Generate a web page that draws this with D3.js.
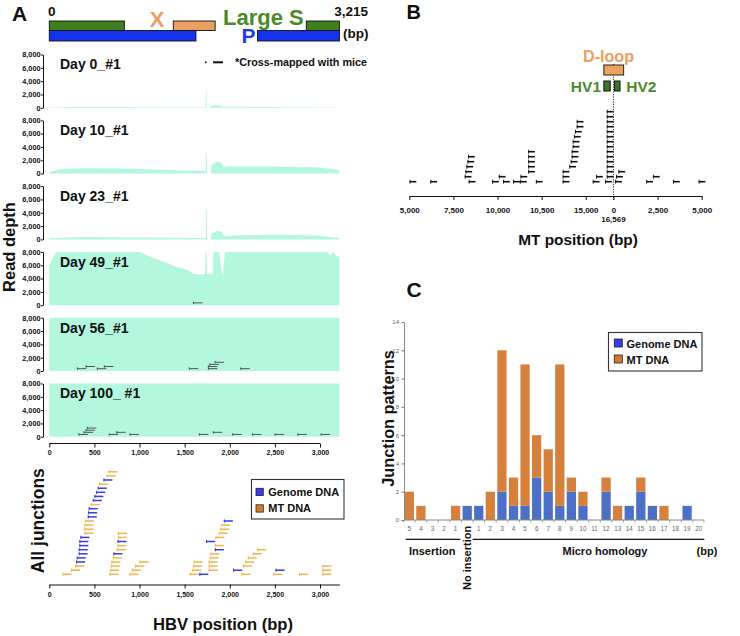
<!DOCTYPE html>
<html><head><meta charset="utf-8">
<script src="https://cdn.jsdelivr.net/npm/d3@7/dist/d3.min.js"></script>
<style>
html,body{margin:0;padding:0;background:#fff;}
svg{display:block;}
</style></head>
<body>
<svg id="chart" width="740" height="636" xmlns="http://www.w3.org/2000/svg"></svg>
<script>
// ================= DATA =================
// ---- Panel A : HBV genome ----
const hbvLength = 3215;
const hbvTicks = [0, 500, 1000, 1500, 2000, 2500, 3000];
const genes = [
  {gene: "S", start: 0,    end: 832,  row: 0},
  {gene: "X", start: 1374, end: 1838, row: 0},
  {gene: "S", start: 2848, end: 3215, row: 0},
  {gene: "P", start: 0,    end: 1625, row: 1},
  {gene: "P", start: 2307, end: 3215, row: 1}
];
const trackNames = ["Day 0_#1", "Day 10_#1", "Day 23_#1", "Day 49_#1", "Day 56_#1", "Day 100_ #1"];
const depthTicks = [0, 2000, 4000, 6000, 8000];
const depthMax = 8000;
// read depth profiles [HBV position, depth]
const depthDay0 = [[0,60],[200,110],[800,110],[1400,90],[1720,70],[1733,70],[1736,2600],[1742,2600],[1745,0],[1770,0],[1790,250],[1840,380],[1900,350],[1930,150],[2500,110],[3215,60]];
const depthDay10 = [[0,250],[118,660],[377,810],[746,760],[1116,600],[1486,450],[1720,400],[1733,400],[1736,3000],[1744,3000],[1748,0],[1790,0],[1800,1300],[1855,1770],[1911,1670],[1929,900],[1966,1060],[2409,1060],[2964,960],[3149,660],[3215,500]];
const depthDay23 = [[0,180],[377,350],[1000,300],[1700,200],[1733,200],[1736,4400],[1744,4400],[1748,0],[1790,0],[1800,900],[1855,1260],[1911,1170],[1935,500],[2040,600],[2594,710],[2964,600],[3215,200]];
const depthDay49 = [[0,5980],[44,7240],[81,8200],[1005,8200],[1020,7900],[1079,7500],[1190,6890],[1301,6380],[1412,5720],[1523,5370],[1596,4710],[1670,4560],[1728,4710],[1733,8200],[1744,8200],[1750,4710],[1811,4710],[1818,8200],[1885,8200],[1899,5980],[1922,4460],[1948,8200],[3075,8200],[3112,7500],[3149,8000],[3193,7240],[3215,7500]];
const depthDay56 = [[0,9000],[3215,9000]];
const depthDay100 = [[0,9000],[3215,9000]];
// junction reads drawn inside tracks [start, stack row]
const marksDay0 = [];
const marksDay10 = [];
const marksDay23 = [];
const marksDay49 = [[1597,0]];
const marksDay56 = [[311,0],[407,1],[532,0],[610,1],[1552,0],[1763,0],[1763,1],[1780,2],[1837,3],[2122,0]];
const marksDay100 = [[329,0],[385,1],[407,2],[422,3],[665,0],[747,1],[895,0],[1663,0],[1818,1],[2033,0],[2251,0],[2502,0],[2754,0],[3012,0]];
const junctionLength = 100;
// all junctions [start, row, type]
const junctionsAll = [
  [148,0,"MT"],[241,1,"MT"],[286,2,"MT"],[297,3,"G"],[304,4,"G"],[326,5,"G"],[326,6,"G"],[333,7,"G"],[333,8,"G"],[345,9,"G"],
  [389,10,"MT"],[389,11,"MT"],[389,12,"MT"],[397,13,"MT"],[426,14,"G"],[430,15,"G"],[437,16,"G"],[460,17,"MT"],[482,18,"G"],
  [500,19,"G"],[519,20,"G"],[537,21,"G"],[552,22,"MT"],[600,23,"G"],[637,24,"MT"],[656,25,"MT"],
  [667,0,"MT"],[675,1,"MT"],[682,2,"MT"],[689,3,"MT"],[704,4,"MT"],[711,5,"G"],[748,6,"MT"],[756,7,"MT"],[756,8,"G"],[760,9,"MT"],[760,10,"MT"],
  [889,0,"MT"],[915,1,"MT"],[952,2,"MT"],[1000,3,"MT"],
  [1556,0,"MT"],[1585,1,"MT"],[1593,2,"MT"],[1600,3,"MT"],[1663,0,"G"],
  [1767,1,"MT"],[1767,2,"MT"],[1767,3,"MT"],[1778,4,"MT"],[1785,5,"MT"],[1834,6,"G"],[1834,7,"MT"],[1737,8,"G"],[1841,9,"MT"],
  [1878,10,"MT"],[1896,11,"MT"],[1907,12,"MT"],[1934,13,"G"],
  [2130,0,"MT"],[2037,1,"G"],[2145,2,"MT"],[2170,3,"MT"],[2200,4,"MT"],[2256,5,"MT"],[2304,6,"MT"],
  [2482,0,"MT"],[2507,1,"G"],[2767,0,"MT"],[3026,0,"MT"],[3026,1,"MT"],[3026,2,"MT"]
];
const junctionTypes = ["Genome DNA", "MT DNA"];

// ---- Panel B : MT genome ----
const mtLength = 16569;
const mtTickValues = [5000, 7500, 10000, 12500, 15000, 16569, 19069, 21569]; // unwrapped bp
const mtTickLabels = ["5,000", "7,500", "10,000", "10,500", "15,000", "0", "2,500", "5,000"];
const dLoop = [16024, 576];
const hv1 = [16024, 16383];
const hv2 = [57, 372];
const mtMarkLength = 380;
// MT junctions [MT position, stack row]
const mtJunctions = [
  [5018,0],[6194,0],[8370,0],[9694,0],[10319,0],[10887,0],[11270,0],[12177,0],[13694,0],[15399,0],[16097,0],[97,0],[1858,0],[3375,0],[4830,0],
  [8143,1],[10075,1],[11304,1],[13694,1],[15586,1],[16194,1],[153,1],[2239,1],
  [8181,2],[11739,2],[13694,2],[16194,2],[284,2],
  [8239,3],[11739,3],[14069,3],[16194,3],
  [8296,4],[11739,4],[14149,4],[16194,4],
  [8330,5],[11739,5],[14205,5],[16194,5],
  [11739,6],[14205,6],[16194,6],
  [14262,7],[16194,7],
  [14262,8],[16194,8],
  [14336,9],[16194,9],
  [14393,10],[16194,10],
  [14489,11],[16194,11],
  [14489,12],[16194,12],
  [16194,13],
  [16194,14]
];

// ---- Panel C : junction patterns ----
const patternKeys = ["I5","I4","I3","I2","I1","N","M1","M2","M3","M4","M5","M6","M7","M8","M9","M10","M11","M12","M13","M14","M15","M16","M17","M18","M19","M20"];
const patternLabels = ["5","4","3","2","1","","1","2","3","4","5","6","7","8","9","10","11","12","13","14","15","16","17","18","19","20"];
const genomeCounts = [0,0,0,0,0,1,1,0,2,1,1,3,2,1,2,1,0,2,0,1,2,1,0,0,1,0];
const mtCounts     = [2,1,0,0,1,0,0,2,10,2,10,3,3,10,1,1,0,1,1,0,1,0,1,0,0,0];
const countTicks = [0, 2, 4, 6, 8, 10, 12, 14];

// ================= DRAWING =================
const F = '"Liberation Sans", Arial, Helvetica, sans-serif';
const svg = d3.select("#chart");
svg.append("rect").attr("width", 740).attr("height", 636).attr("fill", "#fff");

function label(g, x, y, s, size, o = {}) {
  return g.append("text").attr("x", x).attr("y", y).text(s)
    .attr("font-family", F).attr("font-size", size)
    .attr("font-weight", o.weight || "bold").attr("fill", o.fill || "#111")
    .attr("text-anchor", o.anchor || "start");
}
function vlabel(g, x, y, s, size, anchor = "middle") {
  return g.append("text").attr("transform", `translate(${x},${y}) rotate(-90)`)
    .attr("dy", "0.35em").text(s)
    .attr("font-family", F).attr("font-size", size).attr("font-weight", "bold")
    .attr("fill", "#111").attr("text-anchor", anchor);
}
function styleAxis(g, size, weight, color) {
  g.attr("font-family", F).attr("font-size", size).attr("font-weight", weight);
  g.selectAll("text").attr("fill", color);
  g.selectAll("line").attr("stroke", "#111");
  g.select(".domain").attr("stroke", "#111");
}

// ---------- Panel A ----------
const A = svg.append("g");
const xH = d3.scaleLinear().domain([0, hbvLength]).range([49.3, 339.4]);
label(A, 12, 20.5, "A", 21);

const geneFill = {S: "#3f7f1f", X: "#e9a060", P: "#1433ef"};
const geneRowY = [21, 30.5], geneRowH = [9.5, 10.5];
A.selectAll("rect.gene").data(genes).join("rect").attr("class", "gene")
  .attr("x", d => xH(d.start)).attr("width", d => xH(d.end) - xH(d.start))
  .attr("y", d => geneRowY[d.row]).attr("height", d => geneRowH[d.row])
  .attr("fill", d => geneFill[d.gene]).attr("stroke", "#111").attr("stroke-width", 0.9);
label(A, 48, 16, "0", 13.5);
label(A, 368, 16, d3.format(",")(hbvLength), 13.5, {anchor: "end"});
label(A, 343, 37.5, "(bp)", 13.5);
label(A, 157, 27, "X", 22, {fill: "#e8a063", anchor: "middle"});
label(A, 223, 25, "Large S", 22, {fill: "#4a8a2a"});
label(A, 241.5, 43, "P", 21, {fill: "#1d3cf0"});

const depthSeries = [depthDay0, depthDay10, depthDay23, depthDay49, depthDay56, depthDay100];
const markSeries = [marksDay0, marksDay10, marksDay23, marksDay49, marksDay56, marksDay100];
const trackTop0 = 54.5, trackStep = 65.8, trackH = 53.3;
depthSeries.forEach((data, i) => {
  const top = trackTop0 + i * trackStep;
  const y = d3.scaleLinear().domain([0, depthMax]).range([top + trackH, top]).clamp(true);
  const g = A.append("g");
  g.append("path").datum(data)
    .attr("d", d3.area().x(d => xH(d[0])).y0(y(0)).y1(d => y(d[1])))
    .attr("fill", "#b4f7df");
  const ax = g.append("g").attr("transform", "translate(43,0)")
    .call(d3.axisLeft(y).tickValues(depthTicks).tickFormat(d3.format(",")).tickSize(2).tickPadding(0.5).tickSizeOuter(0));
  styleAxis(ax, 7.3, "bold", "#111");
  label(g, 60, top + 14.8, trackNames[i], 14);
  // junction reads inside the track
  const rowDepth = r => 350 + r * 320;
  const mk = g.selectAll("g.mk").data(markSeries[i]).join("g").attr("class", "mk");
  mk.append("line").attr("x1", d => xH(d[0])).attr("x2", d => xH(d[0] + junctionLength))
    .attr("y1", d => y(rowDepth(d[1]))).attr("y2", d => y(rowDepth(d[1])))
    .attr("stroke", "#4f5a57").attr("stroke-width", 1);
  mk.append("line").attr("x1", d => xH(d[0])).attr("x2", d => xH(d[0]))
    .attr("y1", d => y(rowDepth(d[1])) - 1.3).attr("y2", d => y(rowDepth(d[1])) + 1.3)
    .attr("stroke", "#4f5a57").attr("stroke-width", 1);
});
// cross-mapped legend
A.append("rect").attr("x", 205).attr("y", 61.5).attr("width", 1.6).attr("height", 1.6).attr("fill", "#111");
A.append("line").attr("x1", 213).attr("x2", 223).attr("y1", 62.3).attr("y2", 62.3).attr("stroke", "#111").attr("stroke-width", 2);
label(A, 235, 66, "*Cross-mapped with mice", 10.8);

// read depth label
vlabel(A, 9.5, 247, "Read depth", 16.5);

// tracks x-axis
const topAx = A.append("g").attr("transform", "translate(0,443.5)")
  .call(d3.axisBottom(xH).tickValues(hbvTicks).tickFormat(d3.format(",")).tickSize(4).tickPadding(3).tickSizeOuter(0));
topAx.select(".domain").remove();
topAx.append("line").attr("x1", xH(0)).attr("x2", xH(3000)).attr("stroke", "#111");
styleAxis(topAx, 7, "bold", "#111");

// all junctions
const jRowY = r => 574.3 - r * 4.1;
const jColor = {G: "#3c3cd8", MT: "#f0b64e"};
const jg = A.selectAll("g.jn").data(junctionsAll).join("g").attr("class", "jn");
jg.append("line").attr("x1", d => xH(d[0])).attr("x2", d => xH(d[0] + junctionLength))
  .attr("y1", d => jRowY(d[1])).attr("y2", d => jRowY(d[1]))
  .attr("stroke", d => jColor[d[2]]).attr("stroke-width", 1.5);
jg.append("line").attr("x1", d => xH(d[0]) + 0.5).attr("x2", d => xH(d[0]) + 0.5)
  .attr("y1", d => jRowY(d[1]) - 1.6).attr("y2", d => jRowY(d[1]) + 1.6)
  .attr("stroke", d => jColor[d[2]]).attr("stroke-width", 1);
vlabel(A, 37.5, 520.7, "All junctions", 17.5);

const botAx = A.append("g").attr("transform", "translate(0,584.5)")
  .call(d3.axisBottom(xH).tickValues(hbvTicks).tickFormat(d3.format(",")).tickSize(4).tickPadding(4).tickSizeOuter(0));
styleAxis(botAx, 7, "bold", "#111");
label(A, 223, 630, "HBV position (bp)", 16.6, {anchor: "middle"});

// legend A
const legSw = {"Genome DNA": "#3a3ae8", "MT DNA": "#d47a2c"};
function legend(g, x, y, w, h, sx, sy, sz, tx, ty, size) {
  g.append("rect").attr("x", x).attr("y", y).attr("width", w).attr("height", h)
    .attr("fill", "#fff").attr("stroke", "#333").attr("stroke-width", 1.1);
  junctionTypes.forEach((t, i) => {
    g.append("rect").attr("x", sx).attr("y", sy[i]).attr("width", sz).attr("height", sz)
      .attr("fill", legSw[t]).attr("stroke", "#222").attr("stroke-width", 0.8);
    label(g, tx, ty[i], t, size);
  });
}
legend(A, 251.5, 479.5, 92.5, 39.5, 256, [488.3, 504.8], 7.3, 268.3, [495.8, 512.2], 11);

// ---------- Panel B ----------
const B = svg.append("g");
label(B, 406.5, 18.5, "B", 20);
const xM = d3.scaleLinear().domain([5000, 5000 + mtLength]).range([409.3, 701.7]);
const unwrap = p => (p < 5000 ? p + mtLength : p);
const x0 = xM(mtLength);

B.append("line").attr("x1", x0).attr("x2", x0).attr("y1", 64).attr("y2", 200)
  .attr("stroke", "#333").attr("stroke-width", 1).attr("stroke-dasharray", "1.2,1.3");
B.append("rect").attr("x", xM(unwrap(dLoop[0]))).attr("width", xM(unwrap(dLoop[1])) - xM(unwrap(dLoop[0])))
  .attr("y", 65).attr("height", 10).attr("fill", "#eea35c").attr("stroke", "#222").attr("stroke-width", 1);
[hv1, hv2].forEach(h => {
  B.append("rect").attr("x", xM(unwrap(h[0]))).attr("width", xM(unwrap(h[1])) - xM(unwrap(h[0])))
    .attr("y", 81).attr("height", 10).attr("fill", "#3b7a1f").attr("stroke", "#111").attr("stroke-width", 1);
});
label(B, 608.5, 61.5, "D-loop", 16.1, {fill: "#e9a15e", anchor: "middle"});
label(B, 601, 91.7, "HV1", 15.5, {fill: "#4a8a2a", anchor: "end"});
label(B, 626.3, 91.7, "HV2", 15.5, {fill: "#4a8a2a"});

const mRowY = r => 181.7 - r * 5;
const mg = B.selectAll("g.mt").data(mtJunctions).join("g").attr("class", "mt");
mg.append("line").attr("x1", d => xM(unwrap(d[0]))).attr("x2", d => xM(unwrap(d[0]) + mtMarkLength))
  .attr("y1", d => mRowY(d[1])).attr("y2", d => mRowY(d[1]))
  .attr("stroke", "#111").attr("stroke-width", 1.6);
mg.append("line").attr("x1", d => xM(unwrap(d[0])) + 0.4).attr("x2", d => xM(unwrap(d[0])) + 0.4)
  .attr("y1", d => mRowY(d[1]) - 2).attr("y2", d => mRowY(d[1]) + 2)
  .attr("stroke", "#111").attr("stroke-width", 0.9);

const bAx = B.append("g").attr("transform", "translate(0,196)")
  .call(d3.axisBottom(xM).tickValues(mtTickValues).tickFormat((d, i) => mtTickLabels[i]).tickSize(4).tickPadding(7).tickSizeOuter(0));
styleAxis(bAx, 8, "bold", "#111");
label(B, x0, 222, d3.format(",")(mtLength), 8, {anchor: "middle"});
label(B, 578, 245, "MT position (bp)", 15.4, {anchor: "middle"});

// ---------- Panel C ----------
const C = svg.append("g");
label(C, 406.5, 297, "C", 21);
const xC = d3.scaleBand().domain(patternKeys).range([404, 704]).paddingInner(0.2).paddingOuter(0.06);
const yC = d3.scaleLinear().domain([0, 14]).range([520, 322]);
const barColor = {G: "#4b70c6", MT: "#d6803d"};
const stacked = patternKeys.map((k, i) => ({k, g: genomeCounts[i], m: mtCounts[i]}));
C.selectAll("rect.g").data(stacked.filter(d => d.g > 0)).join("rect").attr("class", "g")
  .attr("x", d => xC(d.k)).attr("width", xC.bandwidth())
  .attr("y", d => yC(d.g)).attr("height", d => yC(0) - yC(d.g)).attr("fill", barColor.G);
C.selectAll("rect.m").data(stacked.filter(d => d.m > 0)).join("rect").attr("class", "m")
  .attr("x", d => xC(d.k)).attr("width", xC.bandwidth())
  .attr("y", d => yC(d.g + d.m)).attr("height", d => yC(d.g) - yC(d.g + d.m)).attr("fill", barColor.MT);

const cyAx = C.append("g").attr("transform", "translate(404,0)")
  .call(d3.axisLeft(yC).tickValues(countTicks).tickSize(2.5).tickPadding(2.5).tickSizeOuter(0));
styleAxis(cyAx, 6, "normal", "#666");
cyAx.selectAll("line").attr("stroke", "#777");
cyAx.select(".domain").attr("stroke", "#888");

C.append("line").attr("x1", 404).attr("x2", 704).attr("y1", 520).attr("y2", 520).attr("stroke", "#888").attr("stroke-width", 1);
const bounds = patternKeys.map(k => xC(k) - xC.step() * xC.paddingInner() / 2).concat([704]);
C.selectAll("line.bt").data(bounds).join("line").attr("class", "bt")
  .attr("x1", d => d).attr("x2", d => d).attr("y1", 520).attr("y2", 522.5)
  .attr("stroke", "#888").attr("stroke-width", 0.8);
C.selectAll("text.cl").data(patternKeys).join("text").attr("class", "cl")
  .attr("x", k => xC(k) + xC.bandwidth() / 2).attr("y", 531.3)
  .text((k, i) => patternLabels[i])
  .attr("font-family", F).attr("font-size", 6.3).attr("fill", "#666").attr("text-anchor", "middle");

// group labels
C.append("line").attr("x1", xC("I5") + 1).attr("x2", xC("I1") + xC.bandwidth())
  .attr("y1", 539.3).attr("y2", 539.3).attr("stroke", "#111").attr("stroke-width", 1.2);
C.append("line").attr("x1", xC("M1") - 1.5).attr("x2", 704.3)
  .attr("y1", 539.3).attr("y2", 539.3).attr("stroke", "#111").attr("stroke-width", 1.2);
label(C, 432.2, 554.5, "Insertion", 11, {anchor: "middle"});
label(C, 605, 554.5, "Micro homology", 11, {anchor: "middle"});
label(C, 707, 554.5, "(bp)", 11, {anchor: "middle"});
vlabel(C, xC("N") + xC.bandwidth() / 2, 590, "No insertion", 11, "start");
vlabel(C, 388.5, 418.5, "Junction patterns", 16.3);

legend(C, 608.5, 332.5, 93.5, 38.5, 614.3, [339, 355], 8, 626.5, [347.5, 363.5], 11);
</script>
</body></html>
